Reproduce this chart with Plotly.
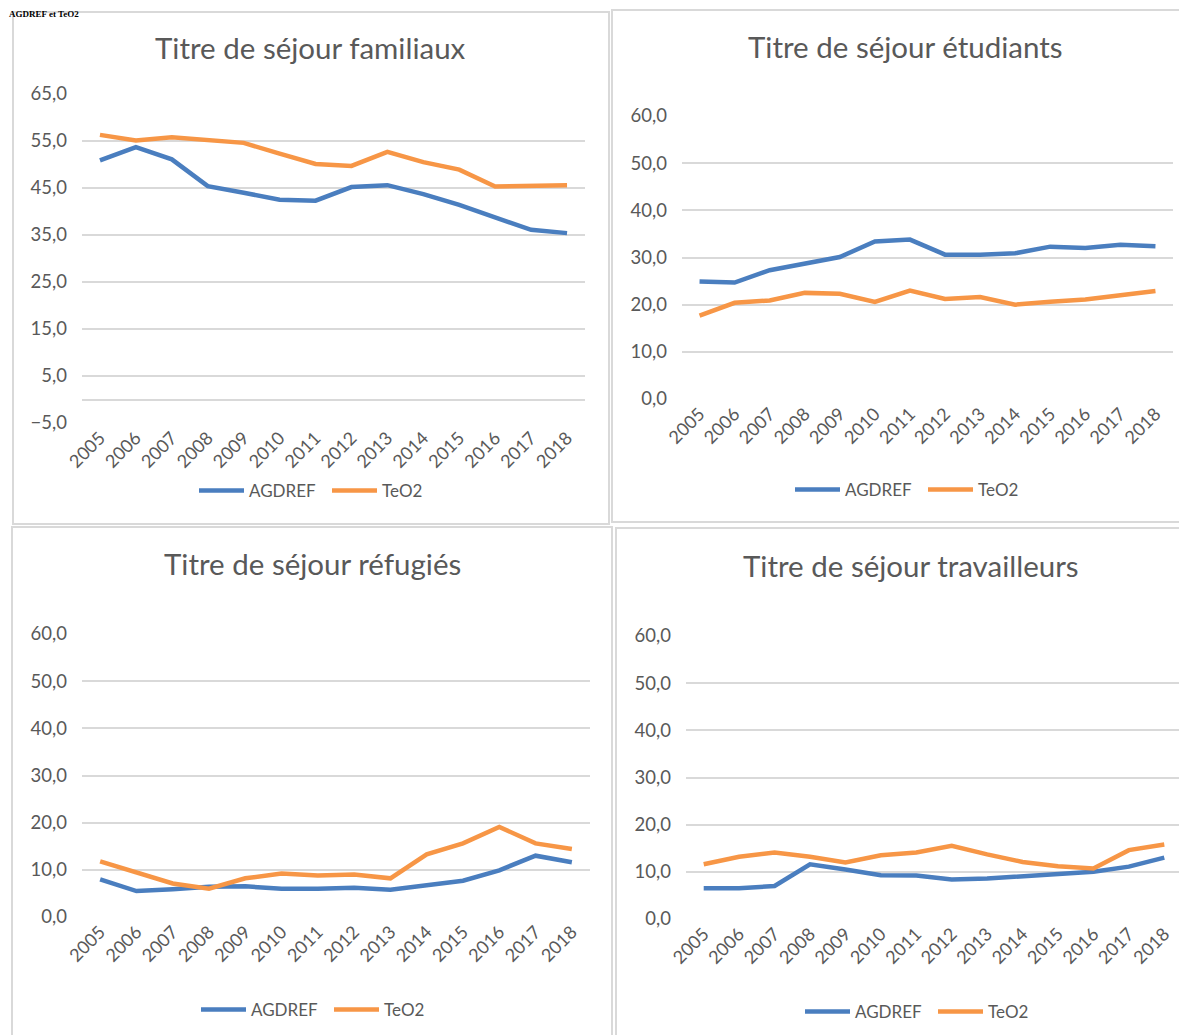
import plotly.graph_objects as go

W, H = 1187, 1035
OFF = 8  # page body margin offset

years = [str(y) for y in range(2005, 2019)]

titles = ["Titre de séjour familiaux", "Titre de séjour étudiants",
          "Titre de séjour réfugiés", "Titre de séjour travailleurs"]
series_names = ["AGDREF", "TeO2"]
header_text = "AGDREF et TeO2"

fam_agdref = [50.9, 53.7, 51.1, 45.4, 44.0, 42.5, 42.3, 45.2, 45.6, 43.7, 41.4, 38.7, 36.1, 35.4]
fam_teo2 = [56.3, 55.1, 55.8, 55.3, 54.6, 52.3, 50.1, 49.7, 52.7, 50.5, 48.9, 45.3, 45.4, 45.6]

etu_agdref = [24.9, 24.7, 27.3, 28.7, 30.1, 33.4, 33.8, 30.6, 30.6, 30.9, 32.3, 32.0, 32.7, 32.4]
etu_teo2 = [17.7, 20.4, 20.9, 22.5, 22.3, 20.6, 23.0, 21.2, 21.6, 20.0, 20.6, 21.1, 22.0, 22.9]

ref_agdref = [8.0, 5.5, 5.9, 6.4, 6.5, 6.0, 6.0, 6.2, 5.8, 6.7, 7.7, 9.9, 13.0, 11.6]
ref_teo2 = [11.8, 9.4, 7.1, 6.0, 8.2, 9.2, 8.8, 9.0, 8.2, 13.3, 15.6, 19.1, 15.6, 14.4]

tra_agdref = [6.5, 6.5, 7.0, 11.6, 10.5, 9.3, 9.2, 8.4, 8.6, 9.1, 9.5, 10.0, 11.1, 13.0]
tra_teo2 = [11.6, 13.2, 14.1, 13.2, 12.0, 13.5, 14.1, 15.5, 13.7, 12.1, 11.2, 10.7, 14.6, 15.8]

y_ranges = [(-5, 65), (0, 60), (0, 60), (0, 60)]
y_ticks = [[-5, 5, 15, 25, 35, 45, 55, 65],
           [0, 10, 20, 30, 40, 50, 60],
           [0, 10, 20, 30, 40, 50, 60],
           [0, 10, 20, 30, 40, 50, 60]]

data = [(fam_agdref, fam_teo2), (etu_agdref, etu_teo2),
        (ref_agdref, ref_teo2), (tra_agdref, tra_teo2)]

# layout geometry in screen pixels
plot_px = [  # x0, x1, ytop, ybottom
    (82, 585, 94, 423),
    (682, 1173, 116, 399),
    (82, 590, 634, 917),
    (686, 1182, 636, 919),
]
title_px = [(311, 48), (905, 47), (313, 563), (911, 565)]
legend_px = [(327, 491), (923, 490), (329, 1010), (933, 1012)]
border_px = [(13, 609, 12, 524), (612, 1192, 10, 522),
             (12, 612, 527, 1045), (616, 1192, 528, 1045)]

BLUE = "#4A7EBF"
ORANGE = "#F79646"
GRID = "#D9D9D9"
TXT = "#595959"
FONT = "Lato"

def px_x(v):
    return (v - OFF) / W

def px_y(v):
    return 1 - (v - OFF) / H

fig = go.Figure()
layout = dict(
    width=W, height=H, autosize=False,
    margin=dict(l=0, r=0, t=0, b=0, pad=0, autoexpand=False),
    paper_bgcolor="white", plot_bgcolor="white",
    separators=", ",
    font=dict(family=FONT, color=TXT, size=17),
    showlegend=True,
)
shapes = []
annotations = []

for i in range(4):
    n = "" if i == 0 else str(i + 1)
    x0, x1, yt, yb = plot_px[i]
    ag, te = data[i]
    leg = "legend" if i == 0 else "legend" + str(i + 1)
    for name, vals, col in zip(series_names, (ag, te), (BLUE, ORANGE)):
        fig.add_trace(go.Scatter(
            x=years, y=vals, mode="lines", name=name,
            line=dict(color=col, width=4.5),
            xaxis="x" + n, yaxis="y" + n, legend=leg,
        ))
    layout["xaxis" + n] = dict(
        domain=[px_x(x0), px_x(x1)], anchor="y" + n,
        type="category", range=[-0.5, 13.5],
        tickangle=-45, showgrid=False, showline=False, ticks="",
        tickfont=dict(family=FONT, size=18, color=TXT),
        fixedrange=True, automargin=False,
    )
    layout["yaxis" + n] = dict(
        domain=[px_y(yb), px_y(yt)], anchor="x" + n,
        range=list(y_ranges[i]), tickvals=y_ticks[i], tickformat=".1f",
        showgrid=True, gridcolor=GRID, gridwidth=1.5,
        zeroline=(i == 0), zerolinecolor=GRID, zerolinewidth=1.5,
        showline=False, ticks="", ticklabelstandoff=14,
        tickfont=dict(family=FONT, size=18.5, color=TXT),
        fixedrange=True, automargin=False,
    )
    lx, ly = legend_px[i]
    layout[leg] = dict(
        orientation="h", x=px_x(lx), y=px_y(ly), xanchor="center", yanchor="middle",
        font=dict(family=FONT, size=17, color=TXT), itemwidth=45,
        entrywidth=73, entrywidthmode="pixels",
        bgcolor="rgba(0,0,0,0)", tracegroupgap=0,
    )
    tx, ty = title_px[i]
    annotations.append(dict(
        text=titles[i], x=px_x(tx), y=px_y(ty), xref="paper", yref="paper",
        xanchor="center", yanchor="middle", showarrow=False,
        font=dict(family=FONT, size=29.5, color=TXT),
    ))
    bx0, bx1, by0, by1 = border_px[i]
    shapes.append(dict(
        type="rect", xref="paper", yref="paper",
        x0=px_x(bx0), x1=px_x(bx1), y0=px_y(by1), y1=px_y(by0),
        line=dict(color=GRID, width=2), fillcolor="rgba(0,0,0,0)", layer="below",
    ))

annotations.append(dict(
    text="<b>" + header_text + "</b>", x=0.0, y=1.0, xref="paper", yref="paper",
    xanchor="left", yanchor="top", showarrow=False, borderpad=0,
    font=dict(family="Liberation Serif", size=9, color="black"),
))

layout["shapes"] = shapes
layout["annotations"] = annotations
fig.update_layout(**layout)

fig.write_html("out.html")
